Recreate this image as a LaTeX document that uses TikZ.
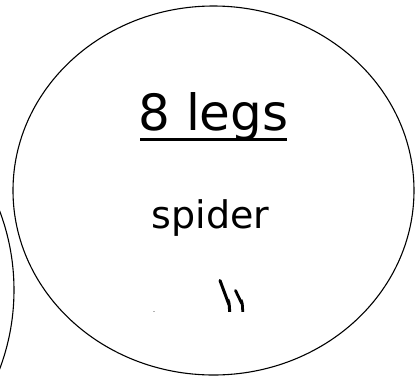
\documentclass[tikz,border=0pt]{standalone}
\usepackage{fontspec}
\setmainfont{DejaVu Sans}
\begin{document}
\begin{tikzpicture}[x=1pt,y=-1pt,
  outline/.style={draw=black,line width=1.1pt},
  mark/.style={line width=3pt,line cap=round}]
\useasboundingbox (0,0) rectangle (416,376);
\begin{scope}
\clip (0,0) rectangle (416,376);
\draw[outline] (-210,290) circle [radius=224];
\draw[outline] (213.5,190.5) ellipse [x radius=200.5, y radius=184.5];
\end{scope}
\node[anchor=base,inner sep=0pt,font=\fontsize{50}{56}\selectfont] (title) at (213.5,130) {8 legs};
\draw[line width=3pt] (140,139.5) -- (287,139.5);
\node[anchor=base,inner sep=0pt,font=\fontsize{38}{44}\selectfont] (name) at (210.5,228) {spider};
\begin{scope}
\clip (0,0) rectangle (416,311.5);
\draw[line width=3pt,line cap=round] (220,280.5) -- (228,302) to[out=70,in=-95] (230,313);
\draw[line width=2.8pt,line cap=round] (235.5,290.5) -- (241,302) to[out=65,in=-95] (243,313);
\end{scope}
\draw[gray!60,line width=0.8pt] (153,311) -- (155,311);
\end{tikzpicture}
\end{document}
